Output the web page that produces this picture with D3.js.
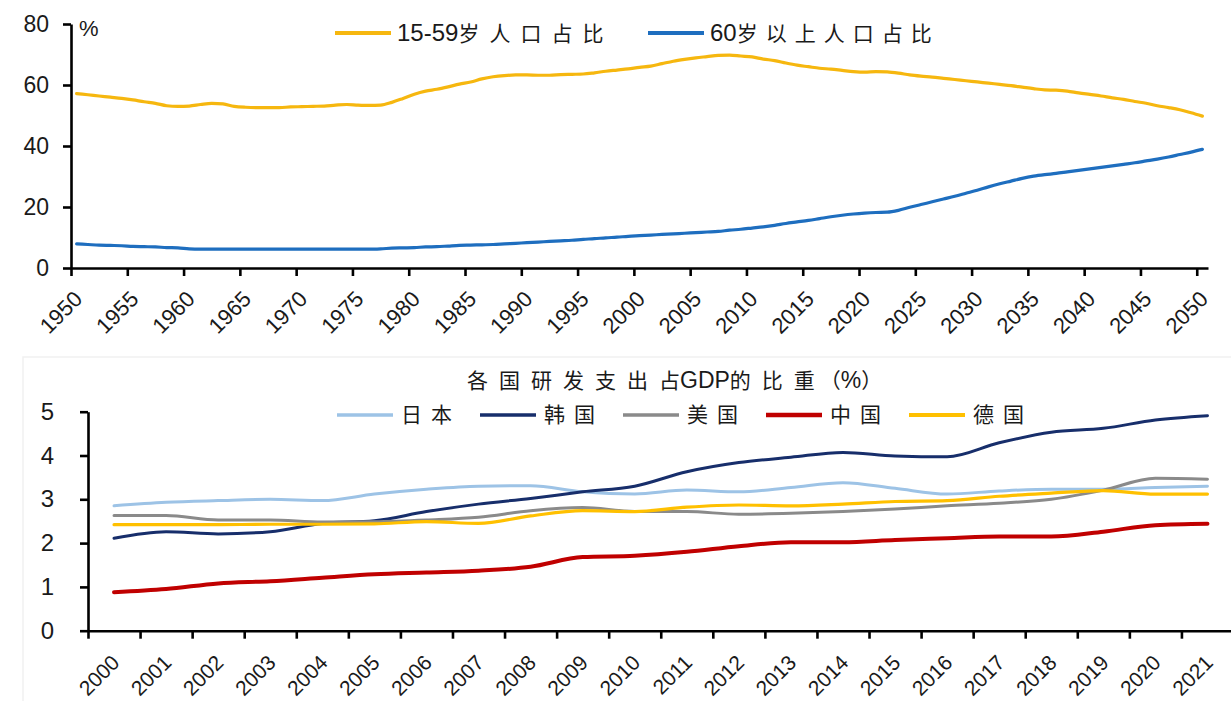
<!DOCTYPE html>
<html>
<head>
<meta charset="utf-8">
<script src="https://cdn.jsdelivr.net/npm/d3@7"></script>
<style>
  body { margin: 0; background: #fff; }
  svg { display: block; }
</style>
</head>
<body>
<svg id="chart" width="1231" height="701"></svg>
<script>
// ---------- Population structure, 1950–2050 ----------
const popYears = d3.range(1950, 2051);
const popLabels = ["15-59岁人口占比", "60岁以上人口占比"];
const popTicksY = [0, 20, 40, 60, 80];

// share of population aged 15-59 (%)
const age15to59 = [
  57.2, 56.8, 56.4, 56.0, 55.6, 55.1, 54.5, 54.0, 53.2, 53.0,
  53.1, 53.6, 54.0, 53.8, 53.0, 52.7, 52.6, 52.6, 52.6, 52.8,
  52.9, 53.0, 53.1, 53.4, 53.6, 53.4, 53.3, 53.4, 54.3, 55.6,
  57.0, 58.0, 58.6, 59.4, 60.3, 61.0, 62.0, 62.7, 63.1, 63.3,
  63.3, 63.2, 63.2, 63.4, 63.5, 63.6, 64.0, 64.5, 64.9, 65.3,
  65.8, 66.2, 67.0, 67.8, 68.4, 68.9, 69.3, 69.7, 69.8, 69.5,
  69.2, 68.5, 68.0, 67.2, 66.5, 66.0, 65.5, 65.2, 64.8, 64.4,
  64.2, 64.4, 64.3, 63.9, 63.3, 62.9, 62.6, 62.2, 61.8, 61.4,
  61.0, 60.6, 60.2, 59.8, 59.3, 58.8, 58.4, 58.3, 58.0, 57.4,
  56.9, 56.4, 55.8, 55.3, 54.6, 54.0, 53.2, 52.6, 51.9, 50.9,
  49.8
];

// share of population aged 60 and over (%)
const age60plus = [
  7.9, 7.7, 7.5, 7.4, 7.3, 7.1, 7.0, 6.9, 6.7, 6.6,
  6.3, 6.2, 6.2, 6.2, 6.2, 6.2, 6.2, 6.2, 6.2, 6.2,
  6.2, 6.2, 6.2, 6.2, 6.2, 6.2, 6.2, 6.3, 6.5, 6.6,
  6.7, 6.9, 7.0, 7.2, 7.4, 7.5, 7.6, 7.7, 7.9, 8.1,
  8.3, 8.5, 8.7, 8.9, 9.1, 9.4, 9.6, 9.9, 10.1, 10.4,
  10.6, 10.8, 11.0, 11.2, 11.4, 11.6, 11.8, 12.0, 12.4, 12.7,
  13.1, 13.5, 14.0, 14.6, 15.1, 15.6, 16.2, 16.8, 17.3, 17.7,
  18.0, 18.2, 18.3, 18.9, 19.9, 20.8, 21.7, 22.6, 23.5, 24.5,
  25.5, 26.6, 27.6, 28.5, 29.4, 30.1, 30.6, 31.0, 31.5, 32.0,
  32.5, 33.0, 33.5, 34.0, 34.5, 35.1, 35.7, 36.4, 37.2, 38.0,
  38.9
];

// ---------- R&D spending as share of GDP, 2000–2021 ----------
const rdYears = d3.range(2000, 2022);
const rdTitle = "各国研发支出占GDP的比重（%）";
const rdCountries = ["日本", "韩国", "美国", "中国", "德国"];
const rdTicksY = [0, 1, 2, 3, 4, 5];

const rdJapan   = [2.85, 2.93, 2.97, 3.00, 2.97, 3.12, 3.23, 3.30, 3.31, 3.17, 3.12, 3.21, 3.17, 3.27, 3.38, 3.25, 3.12, 3.19, 3.23, 3.23, 3.27, 3.30];
const rdKorea   = [2.11, 2.26, 2.21, 2.26, 2.45, 2.51, 2.72, 2.89, 3.02, 3.17, 3.30, 3.63, 3.84, 3.96, 4.07, 3.99, 3.97, 4.29, 4.53, 4.62, 4.81, 4.91];
const rdUSA     = [2.63, 2.63, 2.53, 2.53, 2.48, 2.49, 2.53, 2.59, 2.74, 2.81, 2.72, 2.72, 2.66, 2.68, 2.72, 2.78, 2.85, 2.91, 3.00, 3.21, 3.48, 3.46];
const rdChina   = [0.88, 0.95, 1.08, 1.13, 1.21, 1.29, 1.33, 1.37, 1.46, 1.68, 1.71, 1.80, 1.93, 2.02, 2.02, 2.07, 2.11, 2.15, 2.15, 2.26, 2.41, 2.44];
const rdGermany = [2.42, 2.42, 2.42, 2.43, 2.43, 2.44, 2.49, 2.45, 2.62, 2.74, 2.72, 2.82, 2.87, 2.85, 2.89, 2.95, 2.97, 3.07, 3.14, 3.20, 3.12, 3.12];

const svg = d3.select("#chart");
const NUM_FONT = "'Liberation Sans', Arial, sans-serif";
const CJK_FONT = "'Noto Sans CJK SC', sans-serif";

// Writes a label where CJK glyphs are tracked apart and digits/latin stay tight.
// Spacing is only inserted between neighbouring CJK glyphs.
function spacedText(sel, str, cjkSize, latinSize, spacing, bracketSpacing) {
  const chars = Array.from(str);
  const isCjk = c => /[\u3000-\u9fff\uff00-\uffef]/.test(c);
  chars.forEach((c, i) => {
    const cjk = isCjk(c);
    const next = chars[i + 1];
    let ls = 0;
    if (cjk && next !== undefined && isCjk(next)) {
      ls = (/[\uff08\uff09\uff05]/.test(c) || /[\uff08\uff09\uff05]/.test(next)) ? bracketSpacing : spacing;
    }
    sel.append("tspan")
      .attr("font-family", cjk ? CJK_FONT : NUM_FONT)
      .attr("font-size", cjk ? cjkSize : latinSize)
      .attr("letter-spacing", ls)
      .text(c);
  });
}

function styleAxis(g) {
  g.select(".domain").attr("stroke", "#000").attr("stroke-width", 2.6);
  g.selectAll(".tick line").attr("stroke", "#000").attr("stroke-width", 2.6);
  g.selectAll(".tick text").attr("fill", "#1a1a1a");
}

// ================= Top panel =================
const xT = d3.scaleLinear().domain([1950, 2051]).range([71, 1208]);
const yT = d3.scaleLinear().domain([0, 80]).range([268, 24]);
const bwT = xT(1951) - xT(1950);

const gyT = svg.append("g").attr("transform", `translate(${xT(1950)},0)`)
  .call(d3.axisLeft(yT).tickValues(popTicksY).tickSize(8).tickSizeOuter(0).tickPadding(14));
styleAxis(gyT);
gyT.selectAll(".tick text").attr("font-family", NUM_FONT).attr("font-size", 23);

const gxT = svg.append("g").attr("transform", `translate(0,${yT(0)})`)
  .call(d3.axisBottom(xT).tickValues(d3.range(1950, 2051, 5)).tickSize(8).tickSizeOuter(0).tickFormat(d3.format("d")));
styleAxis(gxT);
gxT.selectAll(".tick text")
  .attr("font-family", NUM_FONT).attr("font-size", 22)
  .attr("text-anchor", "end").attr("y", 0).attr("dy", "0.35em")
  .attr("transform", `translate(${bwT / 2 + 1},27) rotate(-45)`);

svg.append("text").attr("x", 79).attr("y", 36)
  .attr("font-family", NUM_FONT).attr("font-size", 22).attr("fill", "#1a1a1a").text("%");

const lineT = d3.line()
  .x((d, i) => xT(popYears[i] + 0.5))
  .y(d => yT(d))
  .curve(d3.curveMonotoneX);

const popSeries = [
  { name: popLabels[0], values: age15to59, color: "#F6B70F" },
  { name: popLabels[1], values: age60plus, color: "#1E6EBF" }
];
popSeries.forEach(s => {
  svg.append("path").datum(s.values)
    .attr("fill", "none").attr("stroke", s.color).attr("stroke-width", 3.2)
    .attr("stroke-linejoin", "round").attr("stroke-linecap", "round")
    .attr("d", lineT);
});

// legend
const legT = [{ x: 335, s: popSeries[0], gap: 10 }, { x: 648, s: popSeries[1], gap: 8 }];
legT.forEach(l => {
  svg.append("line").attr("x1", l.x).attr("x2", l.x + 56).attr("y1", 33).attr("y2", 33)
    .attr("stroke", l.s.color).attr("stroke-width", 4.2);
  const t = svg.append("text").attr("x", l.x + 62).attr("y", 41).attr("fill", "#1a1a1a");
  spacedText(t, l.s.name, 21, 24, l.gap, l.gap);
});

// ================= Bottom panel =================
// faint panel border
svg.append("path").attr("d", "M23,701V357H1231").attr("fill", "none")
  .attr("stroke", "#f1f1f1").attr("stroke-width", 1.5);

const xB = d3.scaleLinear().domain([2000, 2022]).range([88, 1233.5]);
const yB = d3.scaleLinear().domain([0, 5]).range([630.7, 411.7]);
const bwB = xB(2001) - xB(2000);

const gyB = svg.append("g").attr("transform", `translate(${xB(2000)},0)`)
  .call(d3.axisLeft(yB).tickValues(rdTicksY).tickSize(8).tickSizeOuter(0).tickPadding(26).tickFormat(d3.format("d")));
styleAxis(gyB);
gyB.selectAll(".tick text").attr("font-family", NUM_FONT).attr("font-size", 24);

const gxB = svg.append("g").attr("transform", `translate(0,${yB(0)})`)
  .call(d3.axisBottom(xB).tickValues(d3.range(2000, 2023)).tickSize(8).tickSizeOuter(0).tickFormat(d3.format("d")));
styleAxis(gxB);
gxB.selectAll(".tick").filter(d => d > 2021).select("text").remove();
gxB.selectAll(".tick text")
  .attr("font-family", NUM_FONT).attr("font-size", 21)
  .attr("text-anchor", "end").attr("y", 0).attr("dy", "0.35em")
  .attr("transform", `translate(${bwB / 2 + 1},28) rotate(-45)`);

const lineB = d3.line()
  .x((d, i) => xB(rdYears[i] + 0.5))
  .y(d => yB(d))
  .curve(d3.curveMonotoneX);

const rdSeries = [
  { name: rdCountries[0], values: rdJapan,   color: "#9DC3E6", width: 3 },
  { name: rdCountries[1], values: rdKorea,   color: "#172E6B", width: 3 },
  { name: rdCountries[2], values: rdUSA,     color: "#8A8A8A", width: 3 },
  { name: rdCountries[3], values: rdChina,   color: "#C00000", width: 4 },
  { name: rdCountries[4], values: rdGermany, color: "#FFC000", width: 3.2 }
];
rdSeries.forEach(s => {
  svg.append("path").datum(s.values)
    .attr("fill", "none").attr("stroke", s.color).attr("stroke-width", s.width)
    .attr("stroke-linejoin", "round").attr("stroke-linecap", "round")
    .attr("d", lineB);
});

// title
const title = svg.append("text").attr("x", 467).attr("y", 388).attr("fill", "#1a1a1a");
spacedText(title, rdTitle, 21, 23, 11, 5);

// legend
rdSeries.forEach((s, i) => {
  const x0 = 337 + i * 143;
  svg.append("line").attr("x1", x0).attr("x2", x0 + 56).attr("y1", 415).attr("y2", 415)
    .attr("stroke", s.color).attr("stroke-width", s.width + 0.6);
  const t = svg.append("text").attr("x", x0 + 64).attr("y", 422).attr("fill", "#1a1a1a");
  spacedText(t, s.name, 21, 21, 9, 9);
});
</script>
</body>
</html>
